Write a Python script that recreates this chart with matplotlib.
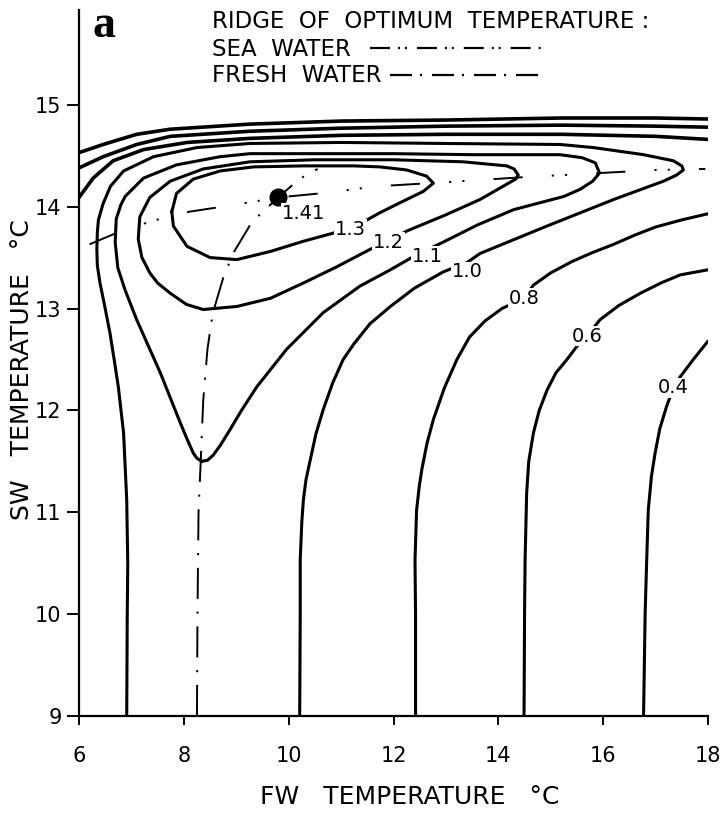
import matplotlib
matplotlib.use('Agg')
import matplotlib.pyplot as plt
from matplotlib.lines import Line2D

# ------------------------------
#  data (FW temp, SW temp)
# ------------------------------
x_ticks = [6, 8, 10, 12, 14, 16, 18]
y_ticks = [9, 10, 11, 12, 13, 14, 15]

peak = (9.80, 14.09)   # maximum, 1.41

c13 = [(7.77, 13.95), (7.86, 14.13), (8.18, 14.27), (8.69, 14.35), (9.33, 14.39),
       (10.28, 14.40), (11.24, 14.40), (11.74, 14.39), (12.25, 14.36), (12.63, 14.30),
       (12.76, 14.23), (12.57, 14.15), (12.13, 14.04), (11.74, 13.94), (11.46, 13.86),
       (10.85, 13.74), (10.28, 13.66), (9.65, 13.56), (9.01, 13.48), (8.50, 13.50),
       (8.06, 13.61), (7.80, 13.81), (7.77, 13.95)]

c12 = [(8.37, 12.99), (9.01, 13.02), (9.65, 13.10), (10.28, 13.25), (10.92, 13.41),
       (11.55, 13.58), (11.90, 13.66), (12.25, 13.76), (13.00, 13.92), (13.65, 14.07),
       (14.16, 14.22), (14.33, 14.27), (14.38, 14.31), (14.30, 14.37), (14.16, 14.40),
       (13.33, 14.44), (12.00, 14.46), (10.50, 14.46), (9.26, 14.44), (8.37, 14.37),
       (7.74, 14.25), (7.35, 14.09), (7.16, 13.90), (7.13, 13.68), (7.20, 13.50),
       (7.35, 13.35), (7.50, 13.25), (7.74, 13.15), (8.05, 13.04), (8.37, 12.99)]

c11 = [(8.34, 11.50), (8.45, 11.51), (8.56, 11.56), (8.70, 11.66), (8.88, 11.81),
       (9.10, 12.00), (9.39, 12.23), (9.96, 12.60), (10.66, 12.96), (11.36, 13.22),
       (11.94, 13.38), (12.38, 13.51), (12.98, 13.66), (13.60, 13.82), (14.29, 13.97),
       (15.25, 14.10), (15.56, 14.17), (15.80, 14.25), (15.93, 14.33), (15.85, 14.43),
       (15.60, 14.48), (15.18, 14.51), (13.50, 14.51), (12.00, 14.52), (10.50, 14.52),
       (9.26, 14.52), (8.69, 14.49), (7.86, 14.41), (7.23, 14.28), (6.88, 14.10),
       (6.80, 14.02), (6.71, 13.88), (6.69, 13.65), (6.74, 13.40), (6.88, 13.18),
       (7.10, 12.89), (7.55, 12.37), (7.93, 11.88), (8.06, 11.72), (8.18, 11.58),
       (8.25, 11.53), (8.34, 11.50)]

c10 = [(6.91, 9.0), (6.92, 10.0), (6.93, 10.5), (6.92, 10.8), (6.91, 11.12),
       (6.88, 11.45), (6.85, 11.78), (6.75, 12.23), (6.67, 12.50), (6.59, 12.76),
       (6.48, 13.05), (6.40, 13.25), (6.35, 13.42), (6.34, 13.58), (6.35, 13.75),
       (6.37, 13.87), (6.46, 14.03), (6.60, 14.20), (6.85, 14.35), (7.42, 14.49),
       (8.25, 14.58), (9.26, 14.62), (11.0, 14.63), (13.0, 14.62), (15.18, 14.61),
       (15.81, 14.58), (16.77, 14.51), (17.34, 14.45), (17.50, 14.40), (17.53, 14.36),
       (17.40, 14.31), (17.15, 14.25), (16.20, 14.07), (14.93, 13.81), (13.65, 13.54),
       (13.40, 13.45), (12.95, 13.36), (12.40, 13.20), (11.94, 13.02), (11.55, 12.85),
       (11.24, 12.65), (11.04, 12.50), (10.84, 12.27), (10.66, 12.01), (10.52, 11.77),
       (10.41, 11.51), (10.33, 11.32), (10.28, 11.12), (10.25, 10.90), (10.22, 10.53),
       (10.22, 10.0), (10.21, 9.0)]

c08_top = [(6.0, 14.09), (6.27, 14.28), (6.65, 14.45), (7.23, 14.56), (8.06, 14.63),
           (9.26, 14.67), (11.0, 14.70), (13.0, 14.71), (15.2, 14.71), (17.0, 14.69),
           (18.0, 14.66)]
c08_low = [(12.42, 9.0), (12.42, 10.0), (12.41, 10.53), (12.44, 11.02), (12.49, 11.25),
           (12.54, 11.42), (12.64, 11.68), (12.76, 11.91), (12.97, 12.22), (13.21, 12.50),
           (13.45, 12.72), (13.75, 12.88), (14.07, 13.00), (14.49, 13.10), (14.67, 13.23),
           (15.00, 13.35), (15.40, 13.46), (15.80, 13.55), (16.20, 13.63), (16.60, 13.72),
           (17.00, 13.80), (17.50, 13.87), (18.0, 13.93)]

c06_top = [(6.0, 14.38), (6.46, 14.49), (7.10, 14.61), (7.74, 14.69), (9.26, 14.74),
           (11.0, 14.77), (13.0, 14.79), (15.2, 14.80), (17.0, 14.79), (18.0, 14.78)]
c06_low = [(14.49, 9.0), (14.50, 10.0), (14.51, 10.53), (14.54, 11.19), (14.58, 11.50),
           (14.67, 11.78), (14.78, 12.00), (14.93, 12.20), (15.10, 12.37), (15.31, 12.50),
           (15.50, 12.63), (15.69, 12.73), (15.94, 12.89), (16.30, 13.03), (16.71, 13.15),
           (17.10, 13.25), (17.47, 13.33), (18.0, 13.38)]

c04_top = [(6.0, 14.53), (6.46, 14.61), (7.10, 14.71), (7.74, 14.76), (9.26, 14.81),
           (11.0, 14.84), (13.0, 14.85), (15.2, 14.87), (17.0, 14.87), (18.0, 14.86)]
c04_low = [(16.77, 9.0), (16.80, 10.0), (16.83, 10.53), (16.86, 11.02), (16.92, 11.35),
           (16.99, 11.58), (17.08, 11.82), (17.21, 12.04), (17.34, 12.22), (17.47, 12.33),
           (17.72, 12.50), (18.0, 12.68)]

# ridges of optimum temperature
ridge_sw = [(6.2, 13.63), (6.8, 13.76), (7.4, 13.86), (8.1, 13.95), (9.0, 14.02),
            (9.8, 14.09), (10.6, 14.13), (11.7, 14.20), (13.0, 14.24), (14.5, 14.29),
            (15.6, 14.32), (17.0, 14.36), (17.95, 14.37)]
ridge_fw = [(8.25, 9.0), (8.26, 10.0), (8.28, 11.0), (8.33, 11.6), (8.37, 12.1),
            (8.45, 12.6), (8.55, 12.95), (8.75, 13.3), (8.95, 13.55), (9.3, 13.85),
            (9.8, 14.09), (10.2, 14.27), (10.55, 14.37)]

# contour labels
label_text = ['1.41', '1.3', '1.2', '1.1', '1.0', '0.8', '0.6', '0.4']
label_x = [10.28, 11.18, 11.90, 12.65, 13.40, 14.49, 15.69, 17.34]
label_y = [13.93, 13.78, 13.65, 13.51, 13.36, 13.10, 12.73, 12.22]

# ------------------------------
#  figure
# ------------------------------
fig = plt.figure(figsize=(7.21, 8.15), dpi=100)
ax = fig.add_axes([0.1096, 0.1215, 0.8724, 0.8662])

sw_style = (0, (15, 15, 1.1, 5.7, 1.1, 15))
fw_style = (0, (16, 6.5, 1.1, 6.5))


def draw(pts, lw=2.2, **kw):
    xs = [p[0] for p in pts]
    ys = [p[1] for p in pts]
    ax.plot(xs, ys, color='black', lw=lw, solid_joinstyle='round',
            solid_capstyle='round', **kw)


for curve in [c13, c12, c11, c10, c08_low, c06_low, c04_low]:
    draw(curve, lw=2.2)
for curve in [c08_top, c06_top, c04_top]:
    draw(curve, lw=2.6)

draw(ridge_sw, lw=1.4, linestyle=sw_style)
draw(ridge_fw, lw=1.4, linestyle=fw_style)

ax.plot(peak[0], peak[1], 'o', color='black', ms=12, zorder=6)

for s, x, y in zip(label_text, label_x, label_y):
    ax.text(x, y, s, ha='center', va='center', fontsize=14, zorder=7,
            bbox=dict(facecolor='white', edgecolor='none', pad=0.5))

ax.set_xlim(6, 18)
ax.set_ylim(9, 15.93)
ax.set_xticks(x_ticks)
ax.set_yticks(y_ticks)
ax.spines['top'].set_visible(False)
ax.spines['right'].set_visible(False)
ax.spines['left'].set_linewidth(1.6)
ax.spines['bottom'].set_linewidth(1.6)
ax.tick_params(axis='y', direction='out', length=8.5, width=1.4, labelsize=15, pad=4)
ax.tick_params(axis='x', direction='out', length=6.5, width=1.4, labelsize=15, pad=15)

ax.set_xlabel('FW   TEMPERATURE   °C', fontsize=18)
ax.xaxis.set_label_coords(0.526, -0.098)
ax.set_ylabel('SW   TEMPERATURE   °C', fontsize=18)
ax.yaxis.set_label_coords(-0.072, 0.49)

# panel letter and legend
fig.text(104 / 721, 1 - 26 / 815, 'a', family='Liberation Serif', weight='bold',
         fontsize=33, ha='center', va='center')
fig.text(212 / 721, 1 - 22 / 815, 'RIDGE  OF  OPTIMUM  TEMPERATURE :', fontsize=16.5,
         ha='left', va='center')
fig.text(212 / 721, 1 - 49 / 815, 'SEA  WATER', fontsize=16.5, ha='left', va='center')
fig.text(212 / 721, 1 - 76 / 815, 'FRESH  WATER', fontsize=16.5, ha='left', va='center')
fig.add_artist(Line2D([370 / 721, 543 / 721], [1 - 48 / 815, 1 - 48 / 815],
                      transform=fig.transFigure, color='black', lw=1.6,
                      linestyle=(0, (9, 3.6, 0.9, 2.2, 0.9, 4.5))))
fig.add_artist(Line2D([390 / 721, 543 / 721], [1 - 75 / 815, 1 - 75 / 815],
                      transform=fig.transFigure, color='black', lw=1.6,
                      linestyle=(0, (9.9, 3.6, 0.9, 4.5))))

fig.savefig('out.png', dpi=100)
